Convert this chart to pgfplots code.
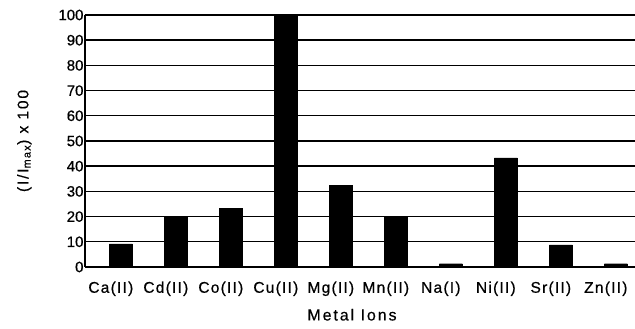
\documentclass[border=0pt]{standalone}
\usepackage{pgfplots}
\pgfplotsset{compat=1.18}
\usepackage{fontspec}
\setmainfont{Liberation Sans}
\newfontfamily\numfont[FakeBold=0.6]{Liberation Sans}
\newfontfamily\catfont[FakeBold=0.6,LetterSpace=8]{Liberation Sans}
\newfontfamily\labfont[FakeBold=0.4,LetterSpace=12]{Liberation Sans}
\usetikzlibrary{calc}
\begin{document}
\begin{tikzpicture}
\begin{axis}[
  name=ax,
  scale only axis,
  width=550pt, height=252pt,
  xmin=-0.47, xmax=9.53,
  ymin=0, ymax=100,
  ytick={0,10,...,100},
  xtick={0,...,9},
  xticklabels={Ca(II),Cd(II),Co(II),Cu(II),Mg(II),Mn(II),Na(I),Ni(II),Sr(II),Zn(II)},
  axis x line*=bottom,
  axis y line*=left,
  axis line style={line width=2.4pt, -},
  ymajorgrids,
  grid style={black, line width=1.4pt},
  major tick length=3pt,
  xtick style={draw=none},
  ytick style={black, line width=1pt},
  /pgf/number format/assume math mode=true,
  yticklabel style={font=\numfont\fontsize{15}{17}\selectfont, xshift=2pt},
  xticklabel style={font=\catfont\fontsize{15.5}{17}\selectfont, yshift=-8pt},
  ylabel={(I/I\textsubscript{max}) x 100},
  ylabel style={font=\labfont\fontsize{15.5}{17}\selectfont, yshift=20pt},
  xlabel={Metal Ions},
  xlabel style={font=\labfont\fontsize{16}{18}\selectfont, yshift=-6pt, xshift=-8pt},
  ybar, bar width=23pt, bar shift=10pt,
]
\addplot[fill=black, draw=black] coordinates {
(0,9.2) (1,20) (2,23.4) (3,100) (4,32.3) (5,19.7) (6,1.3) (7,43.3) (8,8.8) (9,1.3)
};
\end{axis}
\pgfresetboundingbox
\path ($(ax.south west)+(-85pt,-62pt)$) rectangle ($(ax.north east)+(0pt,15pt)$);
\end{tikzpicture}
\end{document}
